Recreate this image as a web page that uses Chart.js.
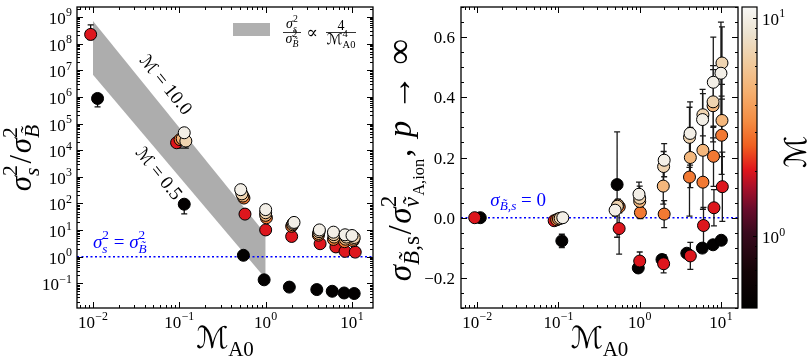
<!DOCTYPE html>
<html>
<head>
<meta charset="utf-8">
<script src="https://cdn.jsdelivr.net/npm/chart.js@4.4.1/dist/chart.umd.min.js"></script>
<style>
body { margin: 0; background: #fff; }
#wrap { position: relative; width: 809px; height: 358px; }
canvas { position: absolute; top: 0; }
</style>
</head>
<body>
<div id="wrap">
  <canvas id="left" width="380" height="358" style="left:0"></canvas>
  <canvas id="right" width="429" height="358" style="left:380px"></canvas>
</div>
<script>
// sonic Mach number of each run group (colour)
const machs = [10, 7, 5, 3, 2, 0.5];

// left panel: sigma_s^2 / sigma_B^2 vs M_A0
const lxM10 = [0.114, 0.514, 1.0, 2.13, 4.19, 6.1, 8.3, 10.0];
const lyM10 = [4.5e4, 330, 59, 19.5, 10.2, 8.4, 6.7, 6.3];
const lxM7 = [0.119, 0.53, 1.0, 2.08, 4.15, 6.15, 8.6, 10.6];
const lyM7 = [2.2e4, 230, 45, 18, 8.8, 6.8, 5.5, 5.3];
const loM7 = [1.2e4, null, null, null, null, null, null, null];
const lxM5 = [0.108, 0.545, 1.0, 2.05, 4.1, 6.2, 8.4, 10.5];
const lyM5 = [2.7e4, 190, 36, 16, 7.5, 5.5, 4.6, 4.6];
const lxM3 = [0.102, 0.56, 1.02, 2.0, 4.08, 6.1, 8.2, 10.3];
const lyM3 = [2.5e4, 160, 29, 14, 6.5, 4.5, 3.7, 4.0];
const loM3 = [1.2e4, null, null, null, null, null, null, null];
const lxM2 = [0.0094, 0.093, 0.576, 1.0, 2.0, 4.27, 6.5, 8.3, 10.9];
const lyM2 = [2.2e8, 1.9e4, 40, 10.2, 5.8, 3.1, 2.35, 1.6, 1.5];
const loM2 = [1.4e8, null, null, null, null, null, null, null, null];
const hiM2 = [5e8, null, null, null, null, null, null, null, null];
const lxM05 = [0.0113, 0.114, 0.552, 0.96, 1.88, 3.91, 5.9, 8.1, 10.6];
const lyM05 = [8.7e5, 94, 1.14, 0.137, 0.073, 0.059, 0.051, 0.044, 0.042];
const loM05 = [4.2e5, 41, 0.8, null, null, null, null, null, null];

// grey band 4/M_A0^4 between M = 0.5 and M = 10
const bandMA0 = [0.01, 1];
const bandHi = [7e8, 7];
const bandLo = [6.8e6, 0.15];

// right panel: sigma_{B,s} / sigma^2_{vA,ion}
const rxM10 = [0.113, 0.498, 0.98, 2.0, 4.17, 5.94, 8.05, 10.0];
const ryM10 = [0, 0.025, 0.078, 0.191, 0.28, 0.326, 0.45, 0.48];
const reM10 = [0, 0.02, 0.04, 0.055, 0.105, 0.1, 0.15, 0.17];
const rxM7 = [0.105, 0.53, 1.0, 1.97, 4.1, 6.0, 8.0, 10.3];
const ryM7 = [-0.002, 0.038, 0.065, 0.17, 0.267, 0.342, 0.385, 0.514];
const reM7 = [0, 0.02, 0.04, 0.05, 0.1, 0.07, 0.12, 0.12];
const rxM5 = [0.1, 0.54, 1.0, 1.95, 4.2, 6.0, 8.0, 10.3];
const ryM5 = [-0.004, 0.042, 0.054, 0.105, 0.2, 0.224, 0.372, 0.323];
const reM5 = [0, 0.02, 0.03, 0.06, 0.1, 0.1, 0.12, 0.12];
const rxM3 = [0.095, 0.56, 1.02, 2.0, 4.1, 6.0, 8.1, 10.2];
const ryM3 = [-0.007, 0.036, 0.017, 0.012, 0.135, 0.118, 0.204, 0.274];
const reM3 = [0, 0.02, 0.02, 0.045, 0.13, 0.09, 0.1, 0.13];
const rxM2 = [0.0093, 0.0885, 0.558, 1.0, 1.97, 4.2, 6.1, 8.2, 10.4];
const ryM2 = [0, -0.01, -0.036, -0.144, -0.153, -0.127, -0.026, 0.033, 0.103];
const reM2 = [0, 0, 0.085, 0.03, 0.03, 0.045, 0.06, 0.06, 0.115];
const rxM05 = [0.0109, 0.110, 0.527, 0.96, 1.88, 3.8, 5.9, 8.0, 10.1];
const ryM05 = [0, -0.077, 0.11, -0.167, -0.139, -0.118, -0.101, -0.09, -0.075];
const reM05 = [0, 0.022, 0.175, 0.008, 0.015, 0.01, 0.01, 0.008, 0.008];

// colourbar
const cbMin = 0.47, cbMax = 11.2;
const cmapPos = [0, 0.12, 0.25, 0.33, 0.40, 0.46, 0.54, 0.62, 0.72, 0.82, 0.91, 1];
const cmapCol = ['#000000', '#140407', '#3a0a1e', '#6a0c2c', '#a8102a', '#e0161c',
                 '#f06020', '#f48c42', '#f5b070', '#f0cca0', '#ece2cf', '#f8f8f6'];

const SERIF = '"Liberation Serif", "DejaVu Serif", serif';
const CAL = '"DejaVu Serif", "DejaVu Sans", serif';
const BLUE = '#0000ff';

function hex2rgb(h) { return [1, 3, 5].map(i => parseInt(h.substr(i, 2), 16)); }

function machColor(m) {
  let f = (Math.log10(m) - Math.log10(cbMin)) / (Math.log10(cbMax) - Math.log10(cbMin));
  f = Math.max(0, Math.min(1, f));
  for (let i = 1; i < cmapPos.length; i++) {
    if (f <= cmapPos[i]) {
      const t = (f - cmapPos[i - 1]) / (cmapPos[i] - cmapPos[i - 1]);
      const a = hex2rgb(cmapCol[i - 1]), b = hex2rgb(cmapCol[i]);
      return 'rgb(' + a.map((v, k) => Math.round(v + (b[k] - v) * t)).join(',') + ')';
    }
  }
  return cmapCol[cmapCol.length - 1];
}

const pts = (xs, ys) => xs.map((x, i) => ({ x, y: ys[i] }));

// tiny math-text writer: t text, i italic, k '^' / '_' / '__', st stack with next, g gap (em)
function drawMath(ctx, items, x, y, size, o = {}) {
  const pieces = [];
  let cx = 0, stack = null;
  for (const it of items) {
    const sc = it.k === '^' || it.k === '_' ? 0.7 : it.k === '__' ? 0.5 : 1;
    const sz = size * sc * (it.s || 1);
    const font = (it.i ? 'italic ' : '') + sz + 'px ' + (it.f || SERIF);
    ctx.font = font;
    const w = ctx.measureText(it.t).width;
    const dy = it.k === '^' ? -0.45 * size : it.k === '_' ? 0.25 * size : it.k === '__' ? 0.4 * size : 0;
    const px = cx + (it.g || 0) * size;
    pieces.push({ t: it.t, font, x: px, dy });
    if (it.st) { stack = { x: px, w }; cx = px; }
    else if (stack) { cx = stack.x + Math.max(stack.w, w); stack = null; }
    else cx = px + w;
  }
  const off = o.align === 'center' ? cx / 2 : o.align === 'right' ? cx : 0;
  ctx.save();
  ctx.translate(x, y);
  if (o.rot) ctx.rotate(o.rot);
  ctx.fillStyle = o.color || '#000';
  ctx.textAlign = 'left';
  ctx.textBaseline = 'alphabetic';
  pieces.forEach(p => { ctx.font = p.font; ctx.fillText(p.t, p.x - off, p.dy + (o.vy || 0)); });
  ctx.restore();
  return cx;
}

const pow10 = n => [{ t: '10' }, { t: (n < 0 ? '\u2212' : '') + Math.abs(n), k: '^', g: 0.02 }];

function logTicks(min, max) {
  const out = [];
  for (let e = Math.floor(Math.log10(min)); e <= Math.ceil(Math.log10(max)); e++) {
    for (let k = 1; k < 10; k++) {
      const v = k * Math.pow(10, e);
      if (v >= min && v <= max) out.push({ v, major: k === 1, e });
    }
  }
  return out;
}

function drawFrame(chart, xt, yt) {
  const { ctx, chartArea: a, scales: { x, y } } = chart;
  ctx.save();
  ctx.strokeStyle = '#000';
  ctx.lineWidth = 1;
  ctx.beginPath();
  xt.forEach(t => {
    const p = Math.round(x.getPixelForValue(t.v)) + 0.5, L = t.major ? 6 : 3;
    ctx.moveTo(p, a.bottom); ctx.lineTo(p, a.bottom - L);
    ctx.moveTo(p, a.top); ctx.lineTo(p, a.top + L);
  });
  yt.forEach(t => {
    const p = Math.round(y.getPixelForValue(t.v)) + 0.5, L = t.major ? 6 : 3;
    ctx.moveTo(a.left, p); ctx.lineTo(a.left + L, p);
    ctx.moveTo(a.right, p); ctx.lineTo(a.right - L, p);
  });
  ctx.stroke();
  ctx.lineWidth = 1.3;
  ctx.strokeRect(a.left, a.top, a.right - a.left, a.bottom - a.top);
  ctx.restore();
}

function errBar(ctx, px, p1, p2) {
  ctx.moveTo(px, p1); ctx.lineTo(px, p2);
  ctx.moveTo(px - 3, p1); ctx.lineTo(px + 3, p1);
  ctx.moveTo(px - 3, p2); ctx.lineTo(px + 3, p2);
}

function scatterSet(xs, ys, m) {
  return {
    type: 'scatter', data: pts(xs, ys),
    backgroundColor: machColor(m), borderColor: '#000',
    pointRadius: 6, pointBorderWidth: 1, pointHoverRadius: 6
  };
}

function bandLabel(ctx, chart, txt, xv, yv) {
  const { x, y } = chart.scales;
  const ang = Math.atan2(y.getPixelForValue(bandHi[1]) - y.getPixelForValue(bandHi[0]),
                         x.getPixelForValue(bandMA0[1]) - x.getPixelForValue(bandMA0[0]));
  drawMath(ctx, [{ t: '\u2133', f: CAL, s: 0.9 }, { t: ' = ' + txt }],
           x.getPixelForValue(xv), y.getPixelForValue(yv), 19, { align: 'center', rot: ang, vy: 6 });
}

const leftXMin = Math.pow(10, -2.185), leftXMax = Math.pow(10, 1.243);
const leftYMin = Math.pow(10, -1.92), leftYMax = Math.pow(10, 9.37);

const leftDeco = {
  id: 'leftDeco',
  beforeDatasetDraw(chart, args) {
    if (args.index !== 5) return;
    const { ctx, scales: { x, y } } = chart;
    const groups = [[lxM7, loM7, null], [lxM3, loM3, null], [lxM2, loM2, hiM2], [lxM05, loM05, null]];
    const ys = [lyM7, lyM3, lyM2, lyM05];
    ctx.save();
    ctx.strokeStyle = '#111';
    ctx.lineWidth = 1.3;
    ctx.beginPath();
    groups.forEach(([xs, lo, hi], g) => {
      xs.forEach((xv, i) => {
        if (lo[i] == null && (!hi || hi[i] == null)) return;
        const px = x.getPixelForValue(xv);
        const p1 = y.getPixelForValue(lo[i] != null ? lo[i] : ys[g][i]);
        const p2 = y.getPixelForValue(hi && hi[i] != null ? hi[i] : ys[g][i]);
        errBar(ctx, px, p1, p2);
      });
    });
    ctx.stroke();
    ctx.restore();
  },
  afterDraw(chart) {
    const { ctx, chartArea: a, scales: { x, y } } = chart;
    const xt = logTicks(leftXMin, leftXMax), yt = logTicks(leftYMin, leftYMax);
    drawFrame(chart, xt, yt);
    xt.filter(t => t.major).forEach(t => drawMath(ctx, pow10(t.e), x.getPixelForValue(t.v), a.bottom + 20, 17, { align: 'center' }));
    yt.filter(t => t.major).forEach(t => drawMath(ctx, pow10(t.e), a.left - 5, y.getPixelForValue(t.v) + 7, 17, { align: 'right' }));

    // titles
    drawMath(ctx, [{ t: '\u2133', f: CAL }, { t: 'A0', k: '_' }], (a.left + a.right) / 2, 348, 30, { align: 'center' });
    drawMath(ctx, [{ t: '\u03c3', i: 1 }, { t: '2', k: '^', st: 1 }, { t: 's', i: 1, k: '_' }, { t: '/', g: 0.05 },
                   { t: '\u03c3', i: 1, g: 0.05 }, { t: '2', k: '^', st: 1 }, { t: 'B\u0303', i: 1, k: '_' }],
             31, 158, 31, { align: 'center', rot: -Math.PI / 2 });

    // reference line label
    drawMath(ctx, [{ t: '\u03c3', i: 1 }, { t: '2', k: '^', st: 1 }, { t: 's', i: 1, k: '_' }, { t: ' = ' },
                   { t: '\u03c3', i: 1 }, { t: '2', k: '^', st: 1 }, { t: 'B\u0303', i: 1, k: '_' }],
             a.left + 16, y.getPixelForValue(1) - 9, 19, { color: BLUE });

    // band labels
    bandLabel(ctx, chart, '10.0', 0.0701, 2.9e6);
    bandLabel(ctx, chart, '0.5', 0.0582, 1.37e3);

    // legend
    ctx.save();
    ctx.fillStyle = '#b0b0b0';
    ctx.fillRect(233, 23, 37, 13);
    ctx.strokeStyle = '#000';
    ctx.lineWidth = 0.8;
    ctx.beginPath();
    ctx.moveTo(283, 32.5); ctx.lineTo(301, 32.5);
    ctx.moveTo(326, 32.5); ctx.lineTo(356, 32.5);
    ctx.stroke();
    ctx.restore();
    drawMath(ctx, [{ t: '\u03c3', i: 1 }, { t: '2', k: '^', st: 1 }, { t: 's', i: 1, k: '_' }], 292, 28, 14, { align: 'center' });
    drawMath(ctx, [{ t: '\u03c3', i: 1 }, { t: '2', k: '^', st: 1 }, { t: 'B\u0303', i: 1, k: '_' }], 292, 43, 14, { align: 'center' });
    drawMath(ctx, [{ t: '\u221d' }], 312, 38, 17, { align: 'center' });
    drawMath(ctx, [{ t: '4' }], 341, 30, 14, { align: 'center' });
    drawMath(ctx, [{ t: '\u2133', f: CAL }, { t: '4', k: '^', st: 1 }, { t: 'A0', k: '_' }], 341, 44, 15, { align: 'center' });
  }
};

const leftChart = new Chart(document.getElementById('left'), {
  type: 'scatter',
  data: {
    datasets: [
      scatterSet(lxM10, lyM10, 10),
      scatterSet(lxM7, lyM7, 7),
      scatterSet(lxM5, lyM5, 5),
      scatterSet(lxM3, lyM3, 3),
      scatterSet(lxM2, lyM2, 2),
      scatterSet(lxM05, lyM05, 0.5),
      { type: 'line', data: [{ x: leftXMin, y: 1 }, { x: leftXMax, y: 1 }], borderColor: BLUE,
        borderWidth: 1.6, borderDash: [2, 2.5], pointRadius: 0, fill: false },
      { type: 'line', data: pts(bandMA0, bandLo), borderWidth: 0, borderColor: 'rgba(0,0,0,0)',
        pointRadius: 0, fill: '+1', backgroundColor: '#adadad' },
      { type: 'line', data: pts(bandMA0, bandHi), borderWidth: 0, borderColor: 'rgba(0,0,0,0)',
        pointRadius: 0, fill: false }
    ]
  },
  options: {
    responsive: false, animation: false, devicePixelRatio: 1,
    layout: { padding: { top: 1, right: 7, left: 0, bottom: 0 } },
    plugins: { legend: { display: false }, tooltip: { enabled: false } },
    scales: {
      x: { type: 'logarithmic', min: leftXMin, max: leftXMax, grid: { display: false },
           border: { display: false }, ticks: { display: false }, afterFit: s => { s.height = 50; } },
      y: { type: 'logarithmic', min: leftYMin, max: leftYMax, grid: { display: false },
           border: { display: false }, ticks: { display: false }, afterFit: s => { s.width = 77; } }
    }
  },
  plugins: [leftDeco]
});

const rightXMin = Math.pow(10, -2.2), rightXMax = Math.pow(10, 1.21);
const rightYMin = -0.3, rightYMax = 0.7;

const rightDeco = {
  id: 'rightDeco',
  beforeDatasetDraw(chart, args) {
    if (args.index !== 5) return;
    const { ctx, scales: { x, y } } = chart;
    const groups = [[rxM10, ryM10, reM10], [rxM7, ryM7, reM7], [rxM5, ryM5, reM5],
                    [rxM3, ryM3, reM3], [rxM2, ryM2, reM2], [rxM05, ryM05, reM05]];
    ctx.save();
    ctx.strokeStyle = '#1a1a1a';
    ctx.lineWidth = 1.3;
    ctx.beginPath();
    groups.forEach(([xs, ys, es]) => {
      xs.forEach((xv, i) => {
        if (!es[i]) return;
        errBar(ctx, x.getPixelForValue(xv), y.getPixelForValue(ys[i] - es[i]), y.getPixelForValue(ys[i] + es[i]));
      });
    });
    ctx.stroke();
    ctx.restore();
  },
  afterDraw(chart) {
    const { ctx, chartArea: a, scales: { x, y, cb } } = chart;
    const xt = logTicks(rightXMin, rightXMax);
    const yt = [];
    for (let k = -6; k <= 14; k++) yt.push({ v: k * 0.05, major: k % 4 === 0 });
    drawFrame(chart, xt, yt);
    xt.filter(t => t.major).forEach(t => drawMath(ctx, pow10(t.e), x.getPixelForValue(t.v), a.bottom + 20, 17, { align: 'center' }));
    yt.filter(t => t.major).forEach(t => {
      const s = (Math.abs(t.v) < 1e-9 ? 0 : t.v).toFixed(1).replace('-', '\u2212');
      drawMath(ctx, [{ t: s }], a.left - 6, y.getPixelForValue(t.v) + 6, 17, { align: 'right' });
    });

    // titles
    drawMath(ctx, [{ t: '\u2133', f: CAL }, { t: 'A0', k: '_' }], (a.left + a.right) / 2, 348, 30, { align: 'center' });
    drawMath(ctx, [{ t: '\u03c3', i: 1 }, { t: 'B\u0303', i: 1, k: '_' }, { t: ',s', k: '_' }, { t: '/', g: 0.05 },
                   { t: '\u03c3', i: 1, g: 0.05 }, { t: '2', k: '^', st: 1 }, { t: 'v\u0303', i: 1, k: '_' },
                   { t: 'A,ion', k: '__' }, { t: ',', g: 0.05 }, { t: 'p', i: 1, g: 0.35 },
                   { t: '\u2192', g: 0.3, s: 1.1 }, { t: '\u221e', g: 0.3, s: 1.1 }],
             31, 160, 33, { align: 'center', rot: -Math.PI / 2 });

    // reference line label
    drawMath(ctx, [{ t: '\u03c3', i: 1 }, { t: 'B\u0303', i: 1, k: '_' }, { t: ',s', i: 1, k: '_' }, { t: ' = 0' }],
             x.getPixelForValue(0.0145), y.getPixelForValue(0) - 12, 19, { color: BLUE });

    // colourbar
    const bx = a.right + 4, bw = 15, bt = cb.top, bb = cb.bottom;
    const grad = ctx.createLinearGradient(0, bb, 0, bt);
    cmapPos.forEach((p, i) => grad.addColorStop(p, cmapCol[i]));
    ctx.save();
    ctx.fillStyle = grad;
    ctx.fillRect(bx, bt, bw, bb - bt);
    ctx.strokeStyle = '#000';
    ctx.lineWidth = 1;
    ctx.beginPath();
    logTicks(cbMin, cbMax).forEach(t => {
      const p = Math.round(cb.getPixelForValue(t.v)) + 0.5;
      ctx.moveTo(bx + bw, p); ctx.lineTo(bx + bw - (t.major ? 4 : 2), p);
    });
    ctx.stroke();
    ctx.lineWidth = 1.2;
    ctx.strokeRect(bx, bt, bw, bb - bt);
    ctx.restore();
    [0, 1].forEach(e => drawMath(ctx, pow10(e), bx + bw + 5, cb.getPixelForValue(Math.pow(10, e)) + 7, 17));
    drawMath(ctx, [{ t: '\u2133', f: CAL }], 426, 152, 30, { align: 'center', rot: -Math.PI / 2 });
  }
};

const rightChart = new Chart(document.getElementById('right'), {
  type: 'scatter',
  data: {
    datasets: [
      scatterSet(rxM10, ryM10, 10),
      scatterSet(rxM7, ryM7, 7),
      scatterSet(rxM5, ryM5, 5),
      scatterSet(rxM3, ryM3, 3),
      scatterSet(rxM2, ryM2, 2),
      scatterSet(rxM05, ryM05, 0.5),
      { type: 'line', data: [{ x: rightXMin, y: 0 }, { x: rightXMax, y: 0 }], borderColor: BLUE,
        borderWidth: 1.6, borderDash: [2, 2.5], pointRadius: 0, fill: false }
    ]
  },
  options: {
    responsive: false, animation: false, devicePixelRatio: 1,
    layout: { padding: { top: 1, right: 0, left: 0, bottom: 0 } },
    plugins: { legend: { display: false }, tooltip: { enabled: false } },
    scales: {
      x: { type: 'logarithmic', min: rightXMin, max: rightXMax, grid: { display: false },
           border: { display: false }, ticks: { display: false }, afterFit: s => { s.height = 50; } },
      y: { type: 'linear', min: rightYMin, max: rightYMax, grid: { display: false },
           border: { display: false }, ticks: { display: false }, afterFit: s => { s.width = 81; } },
      cb: { type: 'logarithmic', axis: 'y', position: 'right', min: cbMin, max: cbMax, grid: { display: false },
            border: { display: false }, ticks: { display: false }, afterFit: s => { s.width = 71; } }
    }
  },
  plugins: [rightDeco]
});
</script>
</body>
</html>
